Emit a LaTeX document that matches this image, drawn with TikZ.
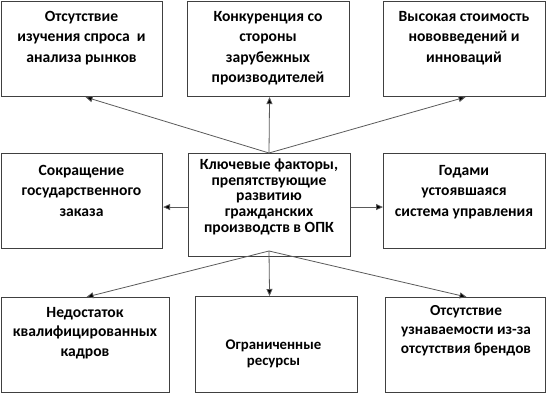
\documentclass[tikz,border=0pt]{standalone}
\usepackage{fontspec}
\setmainfont{Carlito}
\usetikzlibrary{arrows.meta}
\definecolor{boxc}{HTML}{404040}
\definecolor{linec}{HTML}{5A5A5A}
\begin{document}
\begin{tikzpicture}[x=1pt,y=-1pt,
  box/.style={draw=boxc, line width=1.1pt, inner sep=0pt, anchor=north west, fill=white},
  txt/.style={anchor=base, align=center, inner sep=0pt, font=\bfseries\fontsize{15.6}{20.5}\selectfont},
  ctxt/.style={anchor=base, align=center, inner sep=0pt, font=\bfseries\fontsize{15.6}{15.6}\selectfont},
  conn/.style={draw=linec, line width=0.8pt, -{Triangle[length=7pt,width=6pt,fill=black]}}]
\useasboundingbox (0,0) rectangle (546,393);
% boxes
\node[box, minimum width=161pt, minimum height=95pt] (tl) at (1,1) {};
\node[box, minimum width=162pt, minimum height=95pt] (tm) at (187,1) {};
\node[box, minimum width=162pt, minimum height=95pt] (tr) at (383,1) {};
\node[box, minimum width=161pt, minimum height=95pt] (ml) at (1,153) {};
\node[box, minimum width=162pt, minimum height=103pt] (c) at (188,153) {};
\node[box, minimum width=162pt, minimum height=95pt] (mr) at (383,153) {};
\node[box, minimum width=168pt, minimum height=95pt] (bl) at (1,297) {};
\node[box, minimum width=162pt, minimum height=96pt] (bm) at (195,296) {};
\node[box, minimum width=160pt, minimum height=95pt] (br) at (385,297) {};
% texts (anchor base = baseline of last line)
\node[txt] (tlt) at (81.5,62.5) {Отсутствие\\изучения спроса\ \ и\\анализа рынков};
\node[txt] (tmt) at (268,83) {Конкуренция со\\стороны\\зарубежных\\производителей};
\node[txt] (trt) at (464,62.5) {Высокая стоимость\\нововведений и\\инноваций};
\node[txt] (mlt) at (81.5,216) {Сокращение\\государственного\\заказа};
\node[ctxt] (ct) at (269,232) {Ключевые факторы,\\препятствующие\\развитию\\гражданских\\производств в ОПК};
\node[txt] (mrt) at (464,216) {Годами\\устоявшаяся\\система управления};
\node[txt, font=\bfseries\fontsize{15.6}{19.5}\selectfont] (blt) at (85,356) {Недостаток\\квалифицированных\\кадров};
\node[txt, font=\bfseries\fontsize{14.8}{16.5}\selectfont] (bmt) at (273.5,365.5) {Ограниченные\\ресурсы};
\node[txt, font=\bfseries\fontsize{15.3}{19}\selectfont] (brt) at (466,353) {Отсутствие\\узнаваемости из-за\\отсутствия брендов};
% connectors
\coordinate (cu) at (269,153);
\coordinate (cd) at (269,251);
\draw[conn] (cu) -- ([xshift=3.5pt]tl.south);
\draw[conn] (cu) -- ([xshift=1pt]tm.south);
\draw[conn] (cu) -- ([xshift=1pt]tr.south);
\draw[conn] (cd) -- ([xshift=1pt]bl.north);
\draw[conn] (cd) -- ([xshift=-7pt]bm.north);
\draw[conn] (cd) -- ([xshift=1pt]br.north);
\draw[conn] ([yshift=-2pt]c.west) -- ([yshift=-2pt]c.west -| ml.east);
\draw[conn] ([yshift=-2pt]c.east) -- ([yshift=-2pt]c.east -| mr.west);
\end{tikzpicture}
\end{document}
